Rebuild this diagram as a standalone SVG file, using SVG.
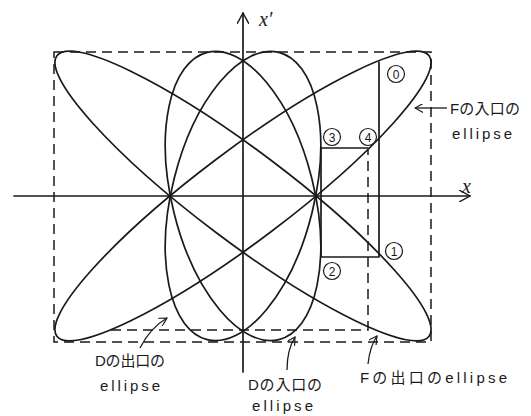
<svg xmlns="http://www.w3.org/2000/svg" width="531" height="416" viewBox="0 0 531 416">
<defs>
<style>
.ln{fill:none;stroke:#1a1a1a;stroke-width:1.7;stroke-linecap:round;stroke-linejoin:round}
.dash{fill:none;stroke:#1a1a1a;stroke-width:1.5;stroke-dasharray:10 6}
.thin{fill:none;stroke:#1a1a1a;stroke-width:1.3}
.lab{font-family:"Liberation Sans","Noto Sans CJK JP",sans-serif;font-size:15px;fill:#1a1a1a}
.ax{font-family:"Liberation Serif",serif;font-style:italic;font-size:20px;fill:#1a1a1a}
.num{font-family:"Liberation Sans",sans-serif;font-size:12px;fill:#1a1a1a;text-anchor:middle}
.circ{fill:#fff;stroke:#1a1a1a;stroke-width:1.2}
</style>
<marker id="arr" viewBox="0 0 10 10" refX="9" refY="5" markerWidth="9" markerHeight="9" markerUnits="userSpaceOnUse" orient="auto">
<path d="M0,0 L9,5 L0,10" fill="none" stroke="#1a1a1a" stroke-width="1.3"/>
</marker>
<marker id="axarr" viewBox="0 0 12 12" refX="11" refY="6" markerWidth="12" markerHeight="12" markerUnits="userSpaceOnUse" orient="auto">
<path d="M0,0 L11,6 L0,12" fill="none" stroke="#1a1a1a" stroke-width="1.4"/>
</marker>
</defs>
<rect width="531" height="416" fill="#fff"/>

<g id="guides">
<rect class="dash" x="54" y="52" width="377" height="290"/>
<path class="dash" d="M111,330 H368 V150"/>
</g>

<g id="axes">
<line class="ln" x1="14" y1="196" x2="470" y2="196" marker-end="url(#axarr)"/>
<line class="ln" x1="243" y1="372" x2="243" y2="13" marker-end="url(#axarr)"/>
<text class="ax" x="259" y="26">x′</text>
<text class="ax" x="462" y="193">x</text>
</g>

<g id="ellipses">
<ellipse id="F-exit" class="ln" cx="243" cy="196" rx="233" ry="45.4" transform="rotate(37 243 196)"/>
<ellipse id="F-entrance" class="ln" cx="243" cy="196" rx="233" ry="45.4" transform="rotate(-37 243 196)"/>
<ellipse id="D-exit" class="ln" cx="243" cy="196" rx="71" ry="148" transform="rotate(-14 243 196)"/>
<ellipse id="D-entrance" class="ln" cx="243" cy="196" rx="71" ry="148" transform="rotate(14 243 196)"/>
</g>

<g id="construction">
<path class="ln" d="M379,62 V257 H321 V148 H368"/>
</g>

<g id="points">
<g id="p0"><circle class="circ" cx="396" cy="74" r="8.5"/><text class="num" x="396" y="78.5">0</text></g>
<g id="p1"><circle class="circ" cx="394" cy="251" r="8.5"/><text class="num" x="394" y="255.5">1</text></g>
<g id="p2"><circle class="circ" cx="332" cy="271" r="8.5"/><text class="num" x="332" y="275.5">2</text></g>
<g id="p3"><circle class="circ" cx="332" cy="137" r="8.5"/><text class="num" x="332" y="141.5">3</text></g>
<g id="p4"><circle class="circ" cx="368" cy="137" r="8.5"/><text class="num" x="368" y="141.5">4</text></g>
</g>

<g id="connectors">
<path class="thin" d="M447,108 L415,108" marker-end="url(#arr)"/>
<path class="thin" d="M368,364 Q370,346 377,336" marker-end="url(#arr)"/>
<path class="thin" d="M140,348 Q150,328 167,318" marker-end="url(#arr)"/>
<path class="thin" d="M287,370 Q287,350 295,337" marker-end="url(#arr)"/>
</g>

<g id="labels">
<text class="lab" x="450" y="114" textLength="70" lengthAdjust="spacing">Fの入口の</text>
<text class="lab" x="452" y="139" textLength="60" lengthAdjust="spacing">ellipse</text>
<text class="lab" x="360" y="383" textLength="147" lengthAdjust="spacing">Fの出口のellipse</text>
<text class="lab" x="95" y="366" textLength="70" lengthAdjust="spacing">Dの出口の</text>
<text class="lab" x="100" y="391" textLength="60" lengthAdjust="spacing">ellipse</text>
<text class="lab" x="248" y="390" textLength="74" lengthAdjust="spacing">Dの入口の</text>
<text class="lab" x="252" y="411" textLength="61" lengthAdjust="spacing">ellipse</text>
</g>
</svg>
